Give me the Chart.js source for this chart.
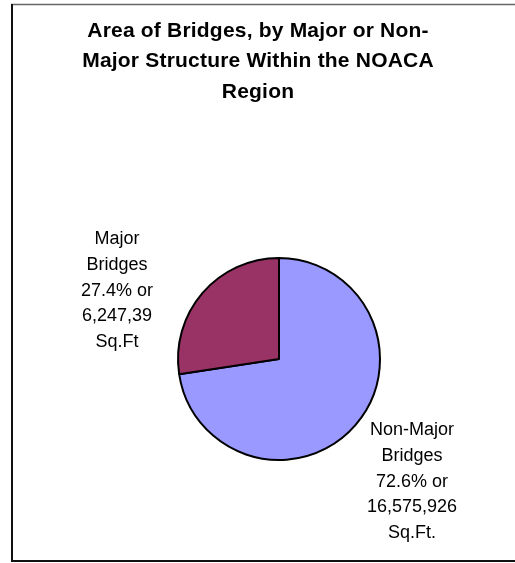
<!DOCTYPE html>
<html>
<head>
<meta charset="utf-8">
<title>Area of Bridges</title>
<script src="https://cdn.jsdelivr.net/npm/chart.js@4.4.1/dist/chart.umd.min.js"></script>
<style>
    html, body { margin: 0; padding: 0; background: #fff; }
    #wrap { width: 515px; height: 563px; position: relative; }
</style>
</head>
<body>
<div id="wrap"><canvas id="bridge-chart" width="515" height="563"></canvas></div>
<script>
// Bridge deck area split, percent of the regional total
const categories = ['Non-Major Bridges', 'Major Bridges'];
const areaShare = [72.6, 27.4];
const sliceColors = ['#9999FF', '#993366'];

const titleLines = ['Area of Bridges, by Major or Non-', 'Major Structure Within the NOACA', 'Region'];
const sliceLabels = [
    ['Non-Major', 'Bridges', '72.6% or', '16,575,926', 'Sq.Ft.'],
    ['Major', 'Bridges', '27.4% or', '6,247,39', 'Sq.Ft']
];

const ctx = document.getElementById('bridge-chart');

// where each label block sits (centre x, first line y)
const labelAnchors = [
    { x: 412, y: 430 },
    { x: 117, y: 239 }
];

const framePlugin = {
    id: 'frame',
    beforeDraw(chart) {
        const c = chart.ctx;
        c.save();
        c.fillStyle = '#fff';
        c.fillRect(0, 0, chart.width, chart.height);
        c.strokeStyle = '#666';
        c.lineWidth = 1.5;
        c.beginPath();
        c.moveTo(11, 4.5);
        c.lineTo(chart.width, 4.5);
        c.stroke();
        c.strokeStyle = '#111';
        c.lineWidth = 2;
        c.beginPath();
        c.moveTo(12, 4);
        c.lineTo(12, 561);
        c.lineTo(chart.width, 561);
        c.stroke();

        // title
        c.fillStyle = '#000';
        c.font = 'bold 21px "Liberation Sans", Arial, sans-serif';
        c.letterSpacing = '0.2px';
        c.textAlign = 'center';
        c.textBaseline = 'middle';
        titleLines.forEach((line, i) => {
            c.fillText(line, 258, 31 + i * 30.5);
        });
        c.restore();
    },
    afterDraw(chart) {
        const c = chart.ctx;
        c.save();
        c.fillStyle = '#000';
        c.font = '18px "Liberation Sans", Arial, sans-serif';
        c.textAlign = 'center';
        c.textBaseline = 'middle';
        sliceLabels.forEach((lines, i) => {
            const a = labelAnchors[i];
            lines.forEach((line, j) => {
                c.fillText(line, a.x, a.y + j * 25.8);
            });
        });
        c.restore();
    }
};

new Chart(ctx, {
    type: 'pie',
    data: {
        labels: categories,
        datasets: [{
            data: areaShare,
            backgroundColor: sliceColors,
            borderColor: '#000',
            borderWidth: 2,
            borderAlign: 'center'
        }]
    },
    options: {
        responsive: false,
        animation: false,
        radius: 101,
        layout: {
            padding: { left: 143, right: 100, top: 255, bottom: 100 }
        },
        plugins: {
            legend: { display: false },
            title: { display: false },
            tooltip: { enabled: false }
        }
    },
    plugins: [framePlugin]
});
</script>
</body>
</html>
